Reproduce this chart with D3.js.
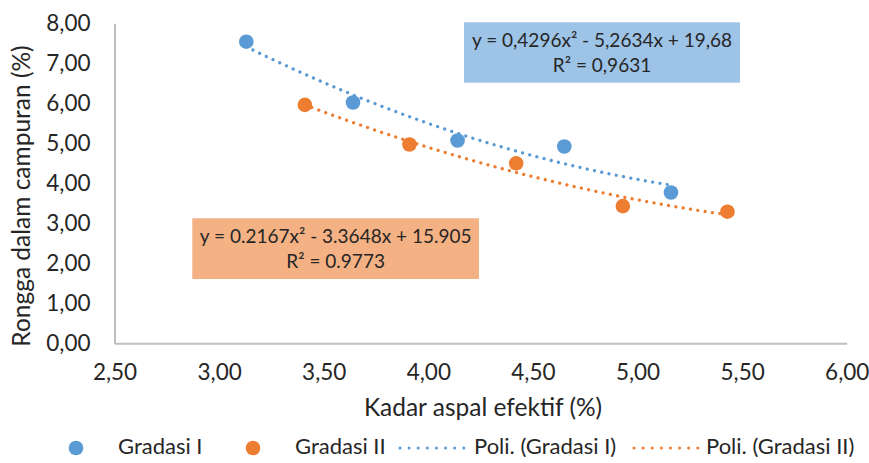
<!DOCTYPE html>
<html>
<head>
<meta charset="utf-8">
<script src="https://cdn.jsdelivr.net/npm/d3@7"></script>
<style>
  body { margin: 0; background: #fff; }
  text { font-family: Lato, "Open Sans", sans-serif; fill: #262626; }
</style>
</head>
<body>
<div id="chart"></div>
<script>
// data
var gradasi1X = [3.13, 3.64, 4.14, 4.65, 5.16];
var gradasi1Y = [7.54, 6.02, 5.07, 4.92, 3.77];
var gradasi2X = [3.41, 3.91, 4.42, 4.93, 5.43];
var gradasi2Y = [5.96, 4.97, 4.50, 3.43, 3.29];
var xTicks = [2.5, 3.0, 3.5, 4.0, 4.5, 5.0, 5.5, 6.0];
var yTicks = [0, 1, 2, 3, 4, 5, 6, 7, 8];
var eq1 = ["y = 0,4296x\u00b2 - 5,2634x + 19,68", "R\u00b2 = 0,9631"];
var eq2 = ["y = 0.2167x\u00b2 - 3.3648x + 15.905", "R\u00b2 = 0.9773"];

var blue = "#5B9BD5", orange = "#ED7D31";
var width = 869, height = 463;
var plotL = 114.5, plotR = 846.7, plotT = 23.3, plotB = 343.3;

var svg = d3.select("#chart").append("svg")
  .attr("width", width).attr("height", height);

var x = d3.scaleLinear().domain([2.5, 6]).range([plotL, plotR]);
var y = d3.scaleLinear().domain([0, 8]).range([plotB, plotT]);

var fmt = function(v){ return v.toFixed(2).replace(".", ","); };

// least squares quadratic, like the excel trendline
var fitQuad = function(xs, ys){
  var n = xs.length, s = [0,0,0,0,0], t = [0,0,0];
  for (var i = 0; i < n; i++) {
    for (var k = 0; k < 5; k++) s[k] += Math.pow(xs[i], k);
    for (var k = 0; k < 3; k++) t[k] += ys[i] * Math.pow(xs[i], k);
  }
  var m = [[s[0],s[1],s[2],t[0]],[s[1],s[2],s[3],t[1]],[s[2],s[3],s[4],t[2]]];
  for (var c = 0; c < 3; c++) {
    for (var r = c + 1; r < 3; r++) {
      var f = m[r][c] / m[c][c];
      for (var j = c; j < 4; j++) m[r][j] -= f * m[c][j];
    }
  }
  var b = [0,0,0];
  for (var r = 2; r >= 0; r--) {
    var v = m[r][3];
    for (var j = r + 1; j < 3; j++) v -= m[r][j] * b[j];
    b[r] = v / m[r][r];
  }
  return function(v){ return b[0] + b[1]*v + b[2]*v*v; };
};

// axes
var xAxis = svg.append("g").attr("transform", "translate(0," + plotB + ")")
  .call(d3.axisBottom(x).tickValues(xTicks).tickFormat(fmt).tickSize(0).tickPadding(21));
var yAxis = svg.append("g").attr("transform", "translate(" + plotL + ",0)")
  .call(d3.axisLeft(y).tickValues(yTicks).tickFormat(fmt).tickSize(0).tickPadding(24));
[xAxis, yAxis].forEach(function(a){
  a.select(".domain").attr("stroke", "#BFBFBF").attr("stroke-width", 2);
  a.selectAll("text").style("font-size", "22.5px").attr("fill", "#262626");
});

// trendlines
var drawTrend = function(xs, ys, color){
  var f = fitQuad(xs, ys);
  var pts = d3.range(0, 101).map(function(i){
    var v = xs[0] + (xs[xs.length-1] - xs[0]) * i / 100;
    return [x(v), y(f(v))];
  });
  svg.append("path").attr("d", d3.line()(pts))
    .attr("fill", "none").attr("stroke", color)
    .attr("stroke-width", 3.3).attr("stroke-linecap", "round")
    .attr("stroke-dasharray", "0.01 7.4");
};
drawTrend(gradasi1X, gradasi1Y, blue);
drawTrend(gradasi2X, gradasi2Y, orange);

// points
var drawPoints = function(xs, ys, color){
  svg.append("g").selectAll("circle").data(xs).enter().append("circle")
    .attr("cx", function(d){ return x(d); })
    .attr("cy", function(d, i){ return y(ys[i]); })
    .attr("r", 7.3).attr("fill", color);
};
drawPoints(gradasi1X, gradasi1Y, blue);
drawPoints(gradasi2X, gradasi2Y, orange);

// equation boxes
var eqBox = function(bx, by, bw, bh, fill, lines){
  svg.append("rect").attr("x", bx).attr("y", by).attr("width", bw).attr("height", bh).attr("fill", fill);
  lines.forEach(function(t, i){
    svg.append("text").attr("x", bx + bw/2).attr("y", by + 19.5 + i*25)
      .attr("text-anchor", "middle").attr("dominant-baseline", "middle")
      .style("font-size", "19px").text(t);
  });
};
eqBox(464, 22.3, 276, 60.4, "#9DC3E6", eq1);
eqBox(192.3, 218.3, 286.7, 60.7, "#F4B183", eq2);

// axis titles
svg.append("text").attr("x", 483).attr("y", 410)
  .attr("text-anchor", "middle").attr("dominant-baseline", "middle")
  .style("font-size", "24.5px").text("Kadar aspal efektif (%)");
svg.append("text").attr("transform", "translate(24,196) rotate(-90)")
  .attr("text-anchor", "middle").attr("dominant-baseline", "middle")
  .style("font-size", "24.5px").text("Rongga dalam campuran (%)");

// legend
var legY = 448;
var legend = [
  {type: "dot", color: blue, sx: 76, tx: 118, label: "Gradasi I"},
  {type: "dot", color: orange, sx: 253, tx: 295, label: "Gradasi II"},
  {type: "line", color: blue, sx: 400, tx: 474, label: "Poli. (Gradasi I)"},
  {type: "line", color: orange, sx: 634, tx: 706, label: "Poli. (Gradasi II)"}
];
legend.forEach(function(d){
  if (d.type === "dot") {
    svg.append("circle").attr("cx", d.sx).attr("cy", legY).attr("r", 7.3).attr("fill", d.color);
  } else {
    svg.append("line").attr("x1", d.sx).attr("x2", d.sx + 64).attr("y1", legY).attr("y2", legY)
      .attr("stroke", d.color).attr("stroke-width", 3).attr("stroke-linecap", "round")
      .attr("stroke-dasharray", "0.01 9.1");
  }
  svg.append("text").attr("x", d.tx).attr("y", legY).attr("dominant-baseline", "middle")
    .style("font-size", "22px").text(d.label);
});
</script>
</body>
</html>
